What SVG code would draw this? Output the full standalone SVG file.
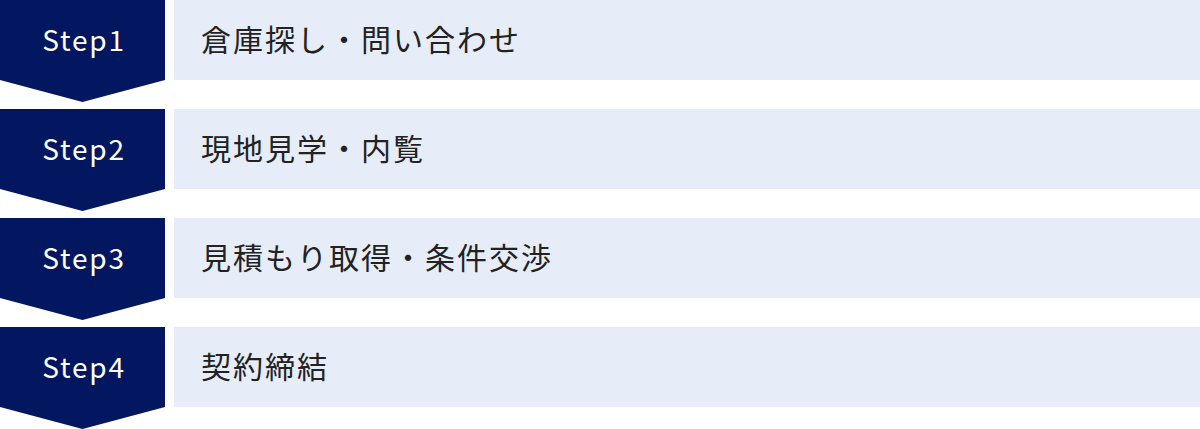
<svg xmlns="http://www.w3.org/2000/svg" width="1200" height="429" viewBox="0 0 1200 429">
<defs>
<style>
.chev{fill:#021760}
.bar{fill:#e6ecf8}
.st{font-family:"Noto Sans CJK JP","Noto Sans",sans-serif;font-size:28px;fill:#ffffff;text-anchor:middle;letter-spacing:1.8px}
.lb{font-family:"Noto Sans CJK JP","Noto Sans",sans-serif;font-size:30px;fill:#222222;letter-spacing:2px}
</style>
<path id="chevShape" d="M0 0H165V80L82.5 102L0 80Z"/>
</defs>
<g id="step1">
<use href="#chevShape" class="chev"/>
<rect class="bar" x="174" y="0" width="1026" height="80"/>
<text class="st" x="84" y="51">Step1</text>
<text class="lb" x="201" y="51">倉庫探し・問い合わせ</text>
</g>
<g id="step2" transform="translate(0,109)">
<use href="#chevShape" class="chev"/>
<rect class="bar" x="174" y="0" width="1026" height="80"/>
<text class="st" x="84" y="51">Step2</text>
<text class="lb" x="201" y="51">現地見学・内覧</text>
</g>
<g id="step3" transform="translate(0,218)">
<use href="#chevShape" class="chev"/>
<rect class="bar" x="174" y="0" width="1026" height="80"/>
<text class="st" x="84" y="51">Step3</text>
<text class="lb" x="201" y="51">見積もり取得・条件交渉</text>
</g>
<g id="step4" transform="translate(0,327)">
<use href="#chevShape" class="chev"/>
<rect class="bar" x="174" y="0" width="1026" height="80"/>
<text class="st" x="84" y="51">Step4</text>
<text class="lb" x="201" y="51">契約締結</text>
</g>
<g id="connectors"></g>
</svg>
